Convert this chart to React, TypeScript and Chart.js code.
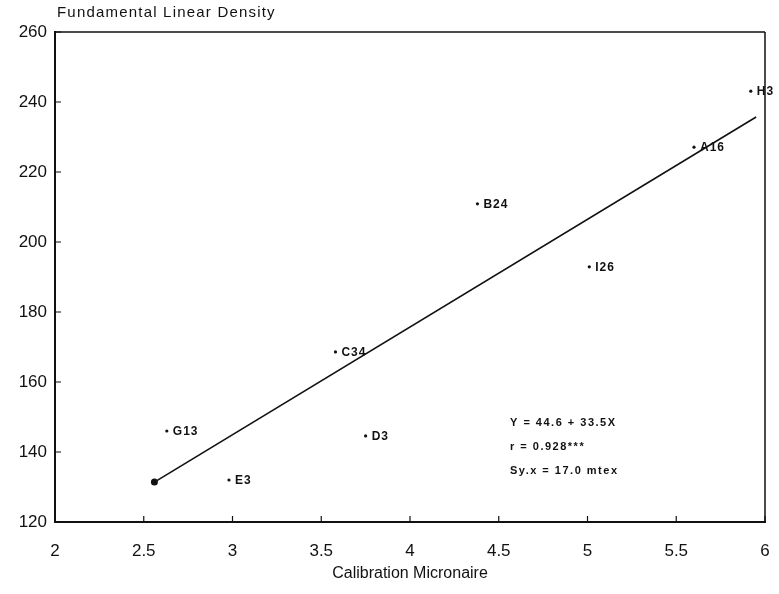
import React, { useEffect, useRef } from "react";
import { Chart, registerables } from "chart.js";

Chart.register(...registerables);

const pointLabels = ["H3", "A16", "B24", "I26", "C34", "G13", "D3", "E3"];
const xValues = [5.92, 5.6, 4.38, 5.01, 3.58, 2.63, 3.75, 2.98];
const yValues = [243.1, 227.1, 210.9, 192.9, 168.6, 146.0, 144.6, 132.0];
const fitX = [2.56, 5.95];
const fitY = [131.4, 235.7];
const xTicks = [2, 2.5, 3, 3.5, 4, 4.5, 5, 5.5, 6];
const yTicks = [120, 140, 160, 180, 200, 220, 240, 260];
const annotationLines = ["Y = 44.6 + 33.5X", "r = 0.928***", "Sy.x = 17.0 mtex"];
const chartTitle = "Fundamental Linear Density";
const xTitle = "Calibration Micronaire";

const FONT = "'Liberation Sans', Arial, Helvetica, sans-serif";

const decorPlugin = {
  id: "decor",
  afterDatasetsDraw(chart: any) {
    const { ctx, chartArea } = chart;
    const xs = chart.scales.x;
    const ys = chart.scales.y;
    ctx.save();
    // frame top & right
    ctx.strokeStyle = "#111";
    ctx.lineWidth = 1.5;
    ctx.beginPath();
    ctx.moveTo(chartArea.left, chartArea.top);
    ctx.lineTo(chartArea.right, chartArea.top);
    ctx.moveTo(chartArea.right, chartArea.top);
    ctx.lineTo(chartArea.right, chartArea.bottom);
    ctx.stroke();
    // inward ticks
    ctx.lineWidth = 1.2;
    ctx.beginPath();
    xTicks.forEach((v) => {
      const px = xs.getPixelForValue(v);
      ctx.moveTo(px, chartArea.bottom);
      ctx.lineTo(px, chartArea.bottom - 6);
    });
    yTicks.forEach((v) => {
      const py = ys.getPixelForValue(v);
      ctx.moveTo(chartArea.left, py);
      ctx.lineTo(chartArea.left + 6, py);
    });
    ctx.stroke();
    // point labels
    ctx.fillStyle = "#111";
    ctx.font = `bold 12px ${FONT}`;
    ctx.textBaseline = "middle";
    ctx.textAlign = "left";
    (ctx as any).letterSpacing = "1px";
    pointLabels.forEach((lab, i) => {
      const px = xs.getPixelForValue(xValues[i]);
      const py = ys.getPixelForValue(yValues[i]);
      ctx.fillText(lab, px + 6, py + 1);
    });
    // annotation
    ctx.font = `bold 11px ${FONT}`;
    (ctx as any).letterSpacing = "1.5px";
    annotationLines.forEach((t, i) => {
      ctx.fillText(t, 510, 423 + i * 24);
    });
    // title
    ctx.font = `15px ${FONT}`;
    (ctx as any).letterSpacing = "1.2px";
    ctx.textBaseline = "middle";
    ctx.fillText(chartTitle, chartArea.left + 2, 13);
    ctx.restore();
  },
};

export default function App() {
  const ref = useRef<HTMLCanvasElement | null>(null);
  useEffect(() => {
    if (!ref.current) return;
    const chart = new Chart(ref.current, {
      type: "scatter",
      data: {
        datasets: [
          {
            type: "line",
            label: "fit",
            data: fitX.map((x, i) => ({ x, y: fitY[i] })),
            borderColor: "#111",
            borderWidth: 1.6,
            pointRadius: [3.5, 0],
            pointBackgroundColor: "#111",
            pointBorderWidth: 0,
            showLine: true,
            fill: false,
          } as any,
          {
            label: "samples",
            data: xValues.map((x, i) => ({ x, y: yValues[i] })),
            pointRadius: 1.6,
            pointBackgroundColor: "#111",
            pointBorderWidth: 0,
            showLine: false,
          },
        ],
      },
      options: {
        animation: false,
        responsive: true,
        maintainAspectRatio: false,
        layout: { padding: { top: 32, right: 14, left: 0, bottom: 0 } },
        plugins: {
          legend: { display: false },
          tooltip: { enabled: false },
          title: { display: false },
        },
        scales: {
          x: {
            type: "linear",
            min: 2,
            max: 6,
            afterBuildTicks: (s: any) => {
              s.ticks = xTicks.map((v) => ({ value: v }));
            },
            afterFit: (s: any) => {
              s.height = 72;
              s.paddingRight = 0;
              s.paddingLeft = 0;
            },
            ticks: {
              color: "#111",
              font: { family: FONT, size: 17 },
              padding: 19,
              maxRotation: 0,
              callback: (v: any) => String(v),
            },
            grid: { display: true, drawOnChartArea: false, drawTicks: false },
            border: { display: true, color: "#111", width: 2 },
            title: {
              display: true,
              text: xTitle,
              color: "#111",
              font: { family: FONT, size: 16 },
              padding: { top: 0, bottom: 11 },
            },
          },
          y: {
            type: "linear",
            min: 120,
            max: 260,
            afterBuildTicks: (s: any) => {
              s.ticks = yTicks.map((v) => ({ value: v }));
            },
            afterFit: (s: any) => {
              s.width = 55;
              s.paddingTop = 0;
              s.paddingBottom = 0;
            },
            ticks: {
              color: "#111",
              font: { family: FONT, size: 17 },
              padding: 8,
            },
            grid: { display: true, drawOnChartArea: false, drawTicks: false },
            border: { display: true, color: "#111", width: 2 },
          },
        },
      },
      plugins: [decorPlugin],
    });
    return () => chart.destroy();
  }, []);
  return (
    <div style={{ position: "fixed", left: 0, top: 0, width: 779, height: 594, background: "#fff" }}>
      <canvas ref={ref} />
    </div>
  );
}
